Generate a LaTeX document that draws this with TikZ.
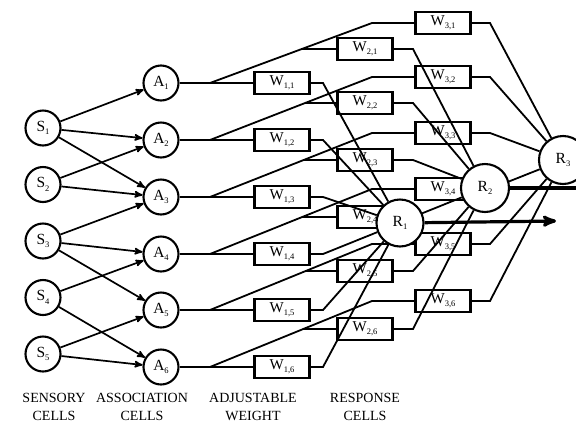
\documentclass[tikz,border=0pt]{standalone}
\usepackage{fontspec}
\setmainfont{Liberation Serif}
\usepackage{tikz}
\usetikzlibrary{arrows}
\usetikzlibrary{calc}
\usetikzlibrary{backgrounds}

\newcommand{\idx}[2]{#1\raisebox{-0.5ex}{\fontsize{8.5}{9}\selectfont #2}}

\begin{document}
\begin{tikzpicture}[x=1pt, y=-1pt, cell/.style={circle, draw, line width=2.1pt, fill=white, minimum size=35pt, inner sep=0pt, font=\fontsize{15.5}{17}\selectfont}, resp/.style={cell, minimum size=47pt}, weight/.style={rectangle, draw, line width=2.4pt, minimum width=55pt, minimum height=22pt, inner sep=0pt, font=\fontsize{15}{17}\selectfont}, link/.style={line width=1.8pt}, arrow/.style={line width=1.7pt, ->, >=stealth'}, output/.style={line width=3.2pt}, caption/.style={align=center, font=\fontsize{14}{17.5}\selectfont}]
\useasboundingbox (0,0) rectangle (576,424);
\clip (0,0) rectangle (576,424);
\foreach \i/\y in {1/128,2/184.5,3/241,4/297.5,5/354}
  \node [cell] (S\i) at (43,\y) {\idx{S}{\i}};
\foreach \i/\ay/\wb/\wc in {1/83/49/23,2/140/103/77,3/197/160/133,4/254/217/189,5/310/271/244,6/367/329/301} {
  \node [cell] (A\i) at (161,\ay) {\idx{A}{\i}};
  \node [weight] (W1-\i) at (282,\ay) {\idx{W}{1,\i}};
  \node [weight] (W2-\i) at (365,\wb) {\idx{W}{2,\i}};
  \node [weight] (W3-\i) at (443,\wc) {\idx{W}{3,\i}};
  \coordinate (b\i) at (210,\ay);
  \coordinate (c\i) at (372,\wc);
  \coordinate (d\i) at ($(b\i)!{(\ay-\wb)/(\ay-\wc)}!(c\i)$);
  \coordinate (p\i) at (323,\ay);
  \coordinate (q\i) at (413,\wb);
  \coordinate (r\i) at (490,\wc);
}
\node [resp] (R1) at (400,223) {\idx{R}{1}};
\node [resp, minimum size=48pt] (R2) at (485,188) {\idx{R}{2}};
\node [resp, minimum size=48pt] (R3) at (563,160) {\idx{R}{3}};
\coordinate (out1) at (556,221);
\coordinate (out2) at (590,188);
\draw [output, ->, >=stealth'] (R1) -- (out1);
\draw [output] (R2) -- (out2);
\begin{scope}[on background layer]
\foreach \s/\a in {1/1,1/2,1/3,2/2,2/3,3/3,3/4,3/5,4/4,4/6,5/5,5/6}
  \draw [arrow] (S\s) -- (A\a);
\foreach \i in {1,...,6} {
  \draw [link] (A\i) -- (W1-\i);
  \draw [link] (b\i) -- (c\i) -- (W3-\i);
  \draw [link] (d\i) -- (W2-\i);
  \draw [link] (W1-\i) -- (p\i) -- (R1);
  \draw [link] (W2-\i) -- (q\i) -- (R2);
  \draw [link] (W3-\i) -- (r\i) -- (R3);
}
\end{scope}
\node [caption] (sensory) at (54,407) {SENSORY\\CELLS};
\node [caption] (assoc) at (142,407) {ASSOCIATION\\CELLS};
\node [caption] (adjust) at (253,407) {ADJUSTABLE\\WEIGHT};
\node [caption] (respond) at (365,407) {RESPONSE\\CELLS};
\end{tikzpicture}
\end{document}
